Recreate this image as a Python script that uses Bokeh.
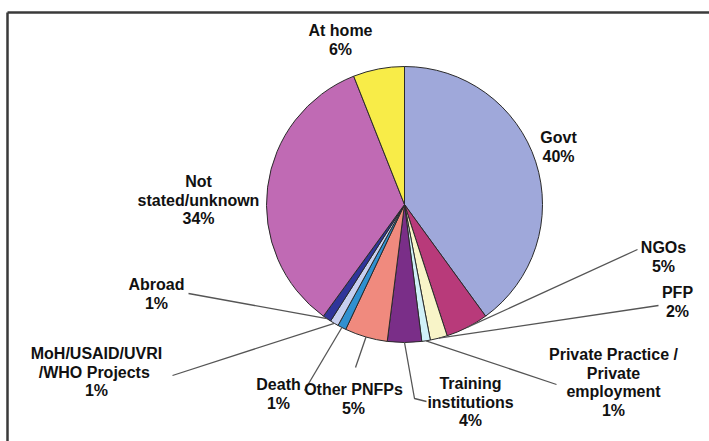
import math
from bokeh.plotting import figure
from bokeh.models import Range1d
from bokeh.embed import file_html
from bokeh.resources import INLINE
from bokeh.core.properties import value

W, H = 709, 441

# ---- data ----
categories = ["Govt", "NGOs", "PFP", "Private Practice / Private employment",
              "Training institutions", "Other PNFPs", "Death",
              "MoH/USAID/UVRI /WHO Projects", "Abroad", "Not stated/unknown", "At home"]
label_lines = [["Govt"], ["NGOs"], ["PFP"], ["Private Practice /", "Private", "employment"],
               ["Training", "institutions"], ["Other PNFPs"], ["Death"],
               ["MoH/USAID/UVRI", "/WHO  Projects"], ["Abroad"], ["Not", "stated/unknown"], ["At home"]]
percent = [40, 5, 2, 1, 4, 5, 1, 1, 1, 34, 6]

# ---- styles / layout ----
colors = ["#9FA8DA", "#B83A7A", "#F8F4C8", "#D0F0F8", "#7A2E88", "#F08A7E",
          "#3090D0", "#C8D0F0", "#30359A", "#C06AB4", "#F8EC48"]
CX, CY, R = 404, 204, 138          # pixel coords of pie centre, radius
label_x = [558, 663, 677, 613, 470, 353, 278, 96, 156, 198, 340]
label_y0 = [137, 247, 292, 354, 383, 389, 384, 353, 284, 181, 30]
LINE_STEP = 18.5
leader_pts = [None, [(637, 249)], [(658, 305)], [(556, 384)],
              [(414, 398), (426, 401)], [(355, 367)], [(304, 390)],
              [(172, 375)], [(188, 293)], None, None]


def fy(y):  # pixel y -> data y
    return H - y


p = figure(width=W, height=H, x_range=Range1d(0, W), y_range=Range1d(0, H),
           x_axis_type=None, y_axis_type=None, toolbar_location=None,
           output_backend="svg", min_border=0, outline_line_color=None,
           background_fill_color="white", border_fill_color="white")
p.grid.visible = False

# frame (top and left edges visible in the picture)
p.multi_line(xs=[[7, W + 5], [7, 7]], ys=[[fy(12), fy(12)], [fy(12), fy(H + 5)]],
             line_color="#3a3a3a", line_width=2.5)

# pie
total = float(sum(percent))
starts, ends, mids = [], [], []
c = 0.0
for v in percent:
    f0 = c / total
    c += v
    f1 = c / total
    starts.append(math.pi / 2 - 2 * math.pi * f1)
    ends.append(math.pi / 2 - 2 * math.pi * f0)
    mids.append(math.pi / 2 - 2 * math.pi * (f0 + f1) / 2)

p.wedge(x=[CX] * len(percent), y=[fy(CY)] * len(percent), radius=R,
        start_angle=starts, end_angle=ends, direction="anticlock",
        fill_color=colors, line_color="#2a2a2a", line_width=1)

# leader lines
lxs, lys = [], []
for i, pts in enumerate(leader_pts):
    if not pts:
        continue
    ex = CX + R * math.cos(mids[i])
    ey = fy(CY) + R * math.sin(mids[i])
    xs = [ex] + [q[0] for q in pts]
    ys = [ey] + [fy(q[1]) for q in pts]
    lxs.append(xs)
    lys.append(ys)
p.multi_line(xs=lxs, ys=lys, line_color="#555555", line_width=1.3)

# labels
tx, ty, tt = [], [], []
for i, lines in enumerate(label_lines):
    rows = lines + [f"{percent[i]}%"]
    for k, s in enumerate(rows):
        tx.append(label_x[i])
        ty.append(fy(label_y0[i] + k * LINE_STEP))
        tt.append(s)
p.text(x=tx, y=ty, text=tt, text_align="center", text_baseline="middle",
       text_font=value("Liberation Sans"), text_font_style="bold",
       text_font_size="16px", text_color="#111111")

open("out.html", "w").write(file_html(p, INLINE))
